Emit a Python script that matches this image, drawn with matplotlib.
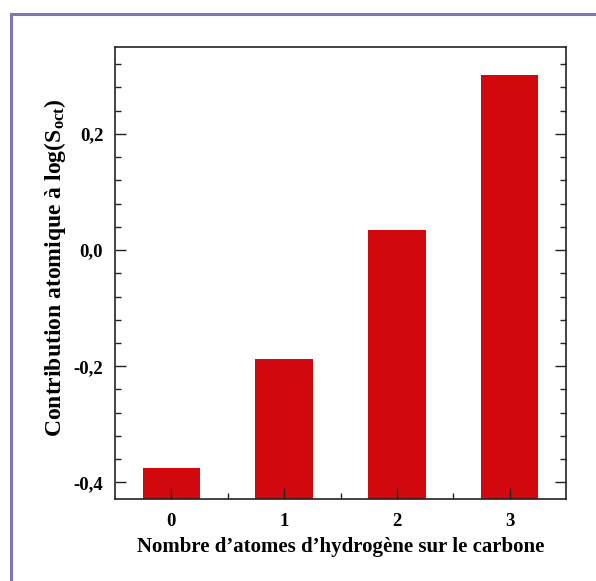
import matplotlib
matplotlib.use("Agg")
import matplotlib.pyplot as plt
from matplotlib.patches import Rectangle
from matplotlib.ticker import FixedLocator, FuncFormatter, MultipleLocator

# données
hydrogens = [0, 1, 2, 3]
contributions = [-0.375, -0.188, 0.035, 0.302]
y_bottom = -0.428

BAR = "#d2080f"
FRAME = "#7d76ba"

plt.rcParams["font.family"] = ["Liberation Serif", "DejaVu Serif"]
plt.rcParams["mathtext.fontset"] = "custom"
plt.rcParams["mathtext.rm"] = "Liberation Serif:bold"
plt.rcParams["mathtext.bf"] = "Liberation Serif:bold"
plt.rcParams["mathtext.it"] = "Liberation Serif:bold"

fig = plt.figure(figsize=(5.96, 5.81), dpi=100)
fig.patches.append(
    Rectangle((10.5 / 596, -0.1), 1.2, 1 - 14 / 581 + 0.1,
              transform=fig.transFigure, fill=False,
              edgecolor=FRAME, linewidth=2.2)
)
ax = fig.add_axes([115 / 596, 1 - 498.7 / 581, 451 / 596, 452 / 581])

ax.bar(hydrogens, [v - y_bottom for v in contributions], bottom=y_bottom,
       width=0.51, color=BAR, zorder=1)

ax.set_xlim(-0.5, 3.5)
ax.set_ylim(y_bottom, 0.35)

ax.xaxis.set_major_locator(FixedLocator(hydrogens))
ax.xaxis.set_minor_locator(FixedLocator([0.5, 1.5, 2.5]))
ax.yaxis.set_major_locator(MultipleLocator(0.2))
ax.yaxis.set_minor_locator(MultipleLocator(0.04))
ax.yaxis.set_major_formatter(
    FuncFormatter(lambda v, _: f"{v:.1f}".replace(".", ",").replace("-0,0", "0,0"))
)

ax.tick_params(axis="both", which="both", direction="in", width=1.0,
               colors="#222222", labelcolor="black")
ax.tick_params(axis="y", which="both", left=True, right=True)
ax.tick_params(axis="x", which="both", top=False)
ax.tick_params(which="major", length=8)
ax.tick_params(which="minor", length=4)
ax.tick_params(axis="x", which="major", pad=10)
ax.tick_params(axis="y", which="major", pad=8.5)
for label in ax.get_xticklabels() + ax.get_yticklabels():
    label.set_fontsize(13.5)
    label.set_fontweight("bold")

for spine in ax.spines.values():
    spine.set_linewidth(1.2)
    spine.set_color("#222222")

ax.set_xlabel("Nombre d’atomes d’hydrogène sur le carbone",
              fontsize=15, fontweight="bold", labelpad=5)
ax.set_ylabel(r"Contribution atomique à log(S$_{\mathrm{oct}}$)",
              fontsize=17, fontweight="bold")
ax.yaxis.set_label_coords(-47 / 451, 0.51)

fig.savefig("out.png", dpi=100, facecolor="white")
